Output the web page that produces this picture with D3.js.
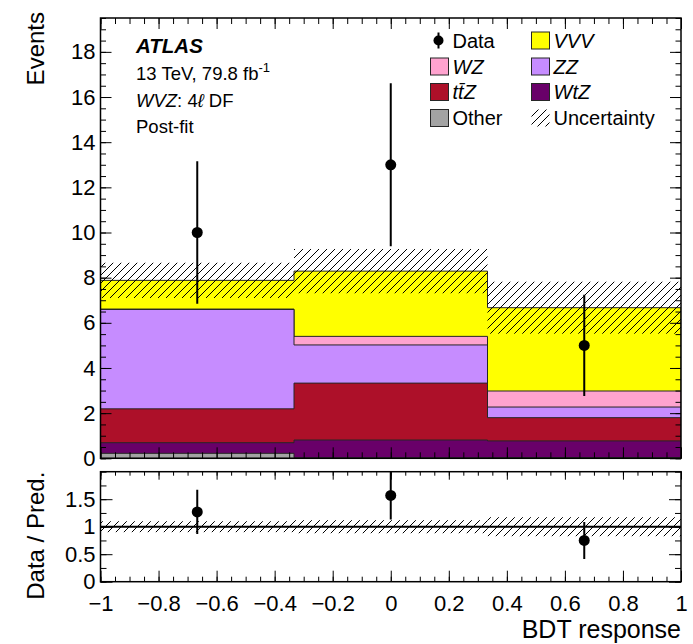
<!DOCTYPE html>
<html>
<head>
<meta charset="utf-8">
<script src="https://cdn.jsdelivr.net/npm/d3@7"></script>
<style>
  body { margin: 0; background: #fff; }
  svg { display: block; }
  text { font-family: "Liberation Sans", Arial, Helvetica, sans-serif; fill: #000; }
</style>
</head>
<body>
<svg id="chart" width="693" height="644"></svg>
<script>
// ---- binning ----
const binEdges = [-1, -1 / 3, 1 / 3, 1];
const binCenters = [-2 / 3, 0, 2 / 3];

// ---- post-fit yields per bin (bottom of stack first) ----
const otherYield = [0.22, 0.02, 0.03];
const wtzYield = [0.47, 0.79, 0.74];
const ttzYield = [1.50, 2.52, 1.03];
const zzYield = [4.40, 1.69, 0.47];
const wzYield = [0.02, 0.38, 0.71];
const vvvYield = [1.27, 2.89, 3.69];
const totalUnc = [0.78, 0.98, 1.15];

// ---- observed data ----
const dataCounts = [10, 13, 5];
const dataErr = [3.16, 3.61, 2.24];

// ---- axis ticks ----
const eventTicks = [0, 2, 4, 6, 8, 10, 12, 14, 16, 18];
const ratioTicks = [0, 0.5, 1, 1.5];
const xTicks = [-1, -0.8, -0.6, -0.4, -0.2, 0, 0.2, 0.4, 0.6, 0.8, 1];

const samples = [
  { name: "Other", values: otherYield, color: "#a3a3a3" },
  { name: "WtZ", values: wtzYield, color: "#690069" },
  { name: "ttZ", values: ttzYield, color: "#ad1029" },
  { name: "ZZ", values: zzYield, color: "#c68cff" },
  { name: "WZ", values: wzYield, color: "#ffa3cf" },
  { name: "VVV", values: vvvYield, color: "#ffff00" }
];

const svg = d3.select("#chart");
const FONT = "'Liberation Sans', Arial, Helvetica, sans-serif";

const x = d3.scaleLinear().domain([-1, 1]).range([100.5, 681]);
const yTop = d3.scaleLinear().domain([0, 19.5]).range([458.3, 18]);
const yRat = d3.scaleLinear().domain([0, 2]).range([581.7, 471.7]);

// hatch pattern for the uncertainty band
const defs = svg.append("defs");
defs.append("pattern")
  .attr("id", "hatch")
  .attr("patternUnits", "userSpaceOnUse")
  .attr("width", 8).attr("height", 8)
  .append("path")
  .attr("d", "M0,8 L8,0 M-2,2 L2,-2 M6,10 L10,6")
  .attr("stroke", "#000").attr("stroke-width", 1).attr("fill", "none");

defs.append("clipPath").attr("id", "clipTop")
  .append("rect").attr("x", x(-1)).attr("y", yTop(19.5))
  .attr("width", x(1) - x(-1)).attr("height", yTop(0) - yTop(19.5));
defs.append("clipPath").attr("id", "clipRat")
  .append("rect").attr("x", x(-1)).attr("y", yRat(2))
  .attr("width", x(1) - x(-1)).attr("height", yRat(0) - yRat(2));

// cumulative stack
const nb = binCenters.length;
let running = new Array(nb).fill(0);
const cumulative = samples.map(s => {
  running = running.map((v, i) => v + s.values[i]);
  return { ...s, top: running.slice() };
});
const total = cumulative[cumulative.length - 1].top;

function stepPath(tops, yScale) {
  let d = `M${x(binEdges[0])},${yScale(0)}`;
  for (let i = 0; i < tops.length; i++) {
    d += `L${x(binEdges[i])},${yScale(tops[i])}L${x(binEdges[i + 1])},${yScale(tops[i])}`;
  }
  d += `L${x(binEdges[tops.length])},${yScale(0)}Z`;
  return d;
}

const topG = svg.append("g").attr("clip-path", "url(#clipTop)");
// draw from the full stack down so each lower layer sits on top
cumulative.slice().reverse().forEach(s => {
  topG.append("path")
    .attr("d", stepPath(s.top, yTop))
    .attr("fill", s.color)
    .attr("stroke", "#262626")
    .attr("stroke-width", 1);
});

// uncertainty band on the total prediction
topG.selectAll("rect.unc").data(d3.range(nb)).enter().append("rect")
  .attr("x", i => x(binEdges[i]))
  .attr("width", i => x(binEdges[i + 1]) - x(binEdges[i]))
  .attr("y", i => yTop(total[i] + totalUnc[i]))
  .attr("height", i => yTop(total[i] - totalUnc[i]) - yTop(total[i] + totalUnc[i]))
  .attr("fill", "url(#hatch)");

// data points
topG.selectAll("line.err").data(d3.range(nb)).enter().append("line")
  .attr("x1", i => x(binCenters[i])).attr("x2", i => x(binCenters[i]))
  .attr("y1", i => yTop(dataCounts[i] - dataErr[i]))
  .attr("y2", i => yTop(dataCounts[i] + dataErr[i]))
  .attr("stroke", "#000").attr("stroke-width", 2);
topG.selectAll("circle.pt").data(d3.range(nb)).enter().append("circle")
  .attr("cx", i => x(binCenters[i])).attr("cy", i => yTop(dataCounts[i]))
  .attr("r", 5.5).attr("fill", "#000");

// ---- ratio panel ----
const ratG = svg.append("g").attr("clip-path", "url(#clipRat)");
ratG.selectAll("rect.unc").data(d3.range(nb)).enter().append("rect")
  .attr("x", i => x(binEdges[i]))
  .attr("width", i => x(binEdges[i + 1]) - x(binEdges[i]))
  .attr("y", i => yRat(1 + totalUnc[i] / total[i]))
  .attr("height", i => yRat(1 - totalUnc[i] / total[i]) - yRat(1 + totalUnc[i] / total[i]))
  .attr("fill", "url(#hatch)");
ratG.append("line")
  .attr("x1", x(-1)).attr("x2", x(1)).attr("y1", yRat(1)).attr("y2", yRat(1))
  .attr("stroke", "#000").attr("stroke-width", 2);
ratG.selectAll("line.err").data(d3.range(nb)).enter().append("line")
  .attr("x1", i => x(binCenters[i])).attr("x2", i => x(binCenters[i]))
  .attr("y1", i => yRat((dataCounts[i] - dataErr[i]) / total[i]))
  .attr("y2", i => yRat((dataCounts[i] + dataErr[i]) / total[i]))
  .attr("stroke", "#000").attr("stroke-width", 2);
ratG.selectAll("circle.pt").data(d3.range(nb)).enter().append("circle")
  .attr("cx", i => x(binCenters[i])).attr("cy", i => yRat(dataCounts[i] / total[i]))
  .attr("r", 5.5).attr("fill", "#000");

// ---- axes ----
const minorX = d3.range(-1, 1.0001, 0.05).map(v => +v.toFixed(2));
const minorYTop = d3.range(0, 19.5001, 0.5);
const minorYRat = d3.range(0, 2.0001, 0.25);
const fmtX = v => (v < 0 ? "\u2212" : "") + d3.format("")(Math.abs(+v.toFixed(1)));

function tickAxis(gen, values, size, translate, fmt, pad, fontSize) {
  const g = svg.append("g").attr("transform", translate)
    .call(gen.tickValues(values).tickSize(size).tickPadding(pad)
      .tickFormat(fmt || (() => "")));
  g.select(".domain").remove();
  g.selectAll(".tick line").attr("stroke", "#000").attr("stroke-width", 1);
  g.selectAll(".tick text").attr("font-family", FONT).attr("font-size", fontSize || 22).attr("fill", "#000");
  return g;
}

// top panel
tickAxis(d3.axisLeft(yTop), minorYTop, -5.5, `translate(${x(-1)},0)`);
tickAxis(d3.axisLeft(yTop), eventTicks, -11, `translate(${x(-1)},0)`, d => d, 5);
tickAxis(d3.axisRight(yTop), minorYTop, -5.5, `translate(${x(1)},0)`);
tickAxis(d3.axisRight(yTop), eventTicks, -11, `translate(${x(1)},0)`);
tickAxis(d3.axisBottom(x), minorX, -6, `translate(0,${yTop(0)})`);
tickAxis(d3.axisBottom(x), xTicks, -11, `translate(0,${yTop(0)})`);
tickAxis(d3.axisTop(x), minorX, -6, `translate(0,${yTop(19.5)})`);
tickAxis(d3.axisTop(x), xTicks, -11, `translate(0,${yTop(19.5)})`);

// ratio panel
tickAxis(d3.axisLeft(yRat), minorYRat, -6, `translate(${x(-1)},0)`);
tickAxis(d3.axisLeft(yRat), ratioTicks, -12, `translate(${x(-1)},0)`, d => d, 5);
tickAxis(d3.axisRight(yRat), minorYRat, -6, `translate(${x(1)},0)`);
tickAxis(d3.axisRight(yRat), ratioTicks, -12, `translate(${x(1)},0)`);
tickAxis(d3.axisBottom(x), minorX, -5, `translate(0,${yRat(0)})`);
tickAxis(d3.axisBottom(x), xTicks, -11, `translate(0,${yRat(0)})`, fmtX, 14);
tickAxis(d3.axisTop(x), minorX, -4, `translate(0,${yRat(2)})`);
tickAxis(d3.axisTop(x), xTicks, -8, `translate(0,${yRat(2)})`);

// frames
[[yTop(19.5), yTop(0)], [yRat(2), yRat(0)]].forEach(([t, b]) => {
  svg.append("rect").attr("x", x(-1)).attr("y", t)
    .attr("width", x(1) - x(-1)).attr("height", b - t)
    .attr("fill", "none").attr("stroke", "#000").attr("stroke-width", 1.5);
});

// axis titles
svg.append("text").attr("transform", `translate(44,12) rotate(-90)`)
  .attr("text-anchor", "end").attr("font-size", 24).text("Events");
svg.append("text").attr("transform", `translate(44,${yRat(2)}) rotate(-90)`)
  .attr("text-anchor", "end").attr("font-size", 24).text("Data / Pred.");
svg.append("text").attr("x", x(1)).attr("y", 638)
  .attr("text-anchor", "end").attr("font-size", 25).text("BDT response");

// ---- labels ----
const lab = svg.append("g").attr("font-size", 18.5);
lab.append("text").attr("x", 136).attr("y", 53).attr("font-weight", "bold")
  .attr("font-style", "italic").attr("font-size", 20.5).text("ATLAS");
const l2 = lab.append("text").attr("x", 136).attr("y", 80);
l2.append("tspan").text("13 TeV, 79.8 fb");
l2.append("tspan").attr("font-size", 13).attr("dy", -8).text("-1");
const l3 = lab.append("text").attr("x", 136).attr("y", 107);
l3.append("tspan").attr("font-style", "italic").text("WVZ");
l3.append("tspan").text(": 4");
l3.append("tspan").attr("font-style", "italic").text("\u2113");
l3.append("tspan").text(" DF");
lab.append("text").attr("x", 136).attr("y", 133).text("Post-fit");

// ---- legend ----
const leg = svg.append("g").attr("font-size", 20);
const rowY = [40.5, 66.5, 92, 118];
const legendItems = [
  { col: 0, row: 0, type: "data", label: [["Data", false]] },
  { col: 1, row: 0, type: "box", color: "#ffff00", label: [["VVV", true]] },
  { col: 0, row: 1, type: "box", color: "#ffa3cf", label: [["WZ", true]] },
  { col: 1, row: 1, type: "box", color: "#c68cff", label: [["ZZ", true]] },
  { col: 0, row: 2, type: "box", color: "#ad1029", label: [["t", true], ["t\u0304", true], ["Z", true]] },
  { col: 1, row: 2, type: "box", color: "#690069", label: [["WtZ", true]] },
  { col: 0, row: 3, type: "box", color: "#a3a3a3", label: [["Other", false]] },
  { col: 1, row: 3, type: "hatch", label: [["Uncertainty", false]] }
];
const colX = [430.5, 531.5];
legendItems.forEach(it => {
  const bx = colX[it.col], cy = rowY[it.row];
  if (it.type === "data") {
    leg.append("line").attr("x1", bx + 8).attr("x2", bx + 8)
      .attr("y1", cy - 8).attr("y2", cy + 8).attr("stroke", "#000").attr("stroke-width", 2);
    leg.append("circle").attr("cx", bx + 8).attr("cy", cy).attr("r", 5).attr("fill", "#000");
  } else if (it.type === "box") {
    leg.append("rect").attr("x", bx).attr("y", cy - 8.5).attr("width", 18).attr("height", 17)
      .attr("fill", it.color).attr("stroke", "#262626").attr("stroke-width", 1);
  } else {
    leg.append("rect").attr("x", bx).attr("y", cy - 8.5).attr("width", 18).attr("height", 17)
      .attr("fill", "url(#hatch)");
  }
  const t = leg.append("text").attr("x", bx + 22).attr("y", cy + 7);
  it.label.forEach(([s, ital]) => {
    const sp = t.append("tspan").text(s);
    if (ital) sp.attr("font-style", "italic");
  });
});
</script>
</body>
</html>
